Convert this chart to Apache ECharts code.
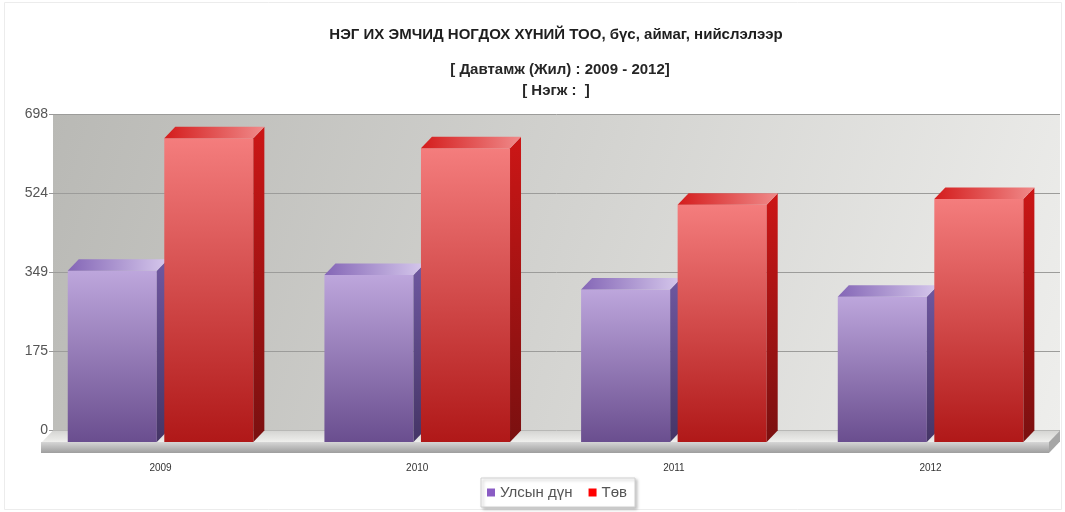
<!DOCTYPE html>
<html>
<head>
<meta charset="utf-8">
<script src="https://cdn.jsdelivr.net/npm/echarts@6/dist/echarts.min.js"></script>
<style>
html,body{margin:0;padding:0;background:#fff;}
#main{width:1065px;height:512px;}
</style>
</head>
<body>
<div id="main"></div>
<script>
// ---- data ----
const categories = ['2009', '2010', '2011', '2012'];
const seriesNames = ['Улсын дүн', 'Төв'];
const ulsynDun = [378, 369, 337, 321];
const tuv = [671, 649, 524, 537];
const yTickLabels = ['0', '175', '349', '524', '698'];
const yMax = 698;

const titleText = 'НЭГ ИХ ЭМЧИД НОГДОХ ХҮНИЙ ТОО, бүс, аймаг, нийслэлээр';
const subText1 = '[ Давтамж (Жил) : 2009 - 2012]';
const subText2 = '[ Нэгж :  ]';

// ---- styling ----
const LG = echarts.graphic.LinearGradient;
const DX = 11, DY = 11.5;
const palettes = [
  {
    legend: '#8a5cc4',
    front: () => new LG(0, 0, 0, 1, [{offset: 0, color: '#bda6dc'}, {offset: 1, color: '#6a4e8f'}]),
    side: () => new LG(0, 0, 0, 1, [{offset: 0, color: '#6f58a0'}, {offset: 1, color: '#453566'}]),
    top: () => new LG(0, 0, 1, 0, [{offset: 0, color: '#8466b6'}, {offset: 1, color: '#d6c8ec'}])
  },
  {
    legend: '#ff0000',
    front: () => new LG(0, 0, 0, 1, [{offset: 0, color: '#f47d7d'}, {offset: 1, color: '#b01818'}]),
    side: () => new LG(0, 0, 0, 1, [{offset: 0, color: '#cc1616'}, {offset: 1, color: '#7a1010'}]),
    top: () => new LG(0, 0, 1, 0, [{offset: 0, color: '#d41c1c'}, {offset: 1, color: '#f08a8a'}])
  }
];

function box3d(sIdx) {
  const pal = palettes[sIdx];
  return function (params, api) {
    const i = api.value(0), v = api.value(1);
    const top = api.coord([i, v]);
    const bot = api.coord([i, 0]);
    const band = api.size([1, 0])[0];
    const w = band * 0.347;
    const x0 = sIdx === 0 ? top[0] - band * 0.3615 : top[0] + band * 0.0146;
    const x1 = x0 + w;
    const yT = top[1], yB = bot[1];
    return {
      type: 'group',
      children: [
        {type: 'rect', shape: {x: x0, y: yT, width: w, height: yB - yT}, style: {fill: pal.front()}},
        {type: 'polygon', shape: {points: [[x1, yT], [x1 + DX, yT - DY], [x1 + DX, yB - DY], [x1, yB]]}, style: {fill: pal.side()}},
        {type: 'polygon', shape: {points: [[x0, yT], [x0 + DX, yT - DY], [x1 + DX, yT - DY], [x1, yT]]}, style: {fill: pal.top()}}
      ]
    };
  };
}

function seriesData(values) {
  return values.map((v, i) => [i, v]);
}

const chart = echarts.init(document.getElementById('main'), null, {renderer: 'canvas'});
const FONT = '"Liberation Sans", Arial, sans-serif';

const option = {
  animation: false,
  backgroundColor: '#fff',
  title: [
    {text: titleText, left: 551, top: 22.5, textAlign: 'center',
     textStyle: {fontFamily: FONT, fontSize: 15, fontWeight: 'bold', color: '#1e1e1e'}},
    {text: subText1, left: 555, top: 57.5, textAlign: 'center',
     textStyle: {fontFamily: FONT, fontSize: 15, fontWeight: 'bold', color: '#262626'}},
    {text: subText2, left: 551, top: 78.5, textAlign: 'center',
     textStyle: {fontFamily: FONT, fontSize: 15, fontWeight: 'bold', color: '#262626'}}
  ],
  legend: {
    data: seriesNames,
    left: 481, top: 478,
    icon: 'rect', itemWidth: 8, itemHeight: 8, itemGap: 16,
    padding: [7, 8, 7, 6],
    backgroundColor: '#fff', borderColor: '#d0d0d0', borderWidth: 1,
    shadowColor: 'rgba(0,0,0,0.25)', shadowBlur: 3, shadowOffsetX: 2, shadowOffsetY: 2,
    textStyle: {fontFamily: FONT, fontSize: 15, color: '#555'}
  },
  grid: [
    // front plane (bars)
    {left: 32.2, right: 6.1, top: 126, bottom: 70},
    // back wall (grid lines + y labels)
    {left: 53, right: 5, top: 114.5, bottom: 81.5, show: true, borderWidth: 0,
     backgroundColor: new LG(0, 0, 1, 1, [{offset: 0, color: '#b9b9b5'}, {offset: 0.5, color: '#d3d3d0'}, {offset: 1, color: '#eeeeec'}])}
  ],
  xAxis: [
    {type: 'category', gridIndex: 0, data: categories,
     axisLine: {show: false}, axisTick: {show: false},
     axisLabel: {margin: 21, fontFamily: FONT, fontSize: 10, color: '#333'}},
    {type: 'value', gridIndex: 1, show: false}
  ],
  yAxis: [
    {type: 'value', gridIndex: 0, min: 0, max: yMax, show: false},
    {type: 'value', gridIndex: 1, min: 0, max: yMax, interval: yMax / 4,
     axisLine: {show: false},
     axisTick: {show: true, length: 4, lineStyle: {color: '#999'}},
     splitLine: {show: true, lineStyle: {color: '#9c9c9a', width: 1}},
     axisLabel: {margin: 5, fontFamily: FONT, fontSize: 14, color: '#555',
       formatter: (val) => yTickLabels[Math.round(val / (yMax / 4))]}}
  ],
  graphic: [
    // chart border
    {type: 'rect', z: -10, shape: {x: 4.5, y: 2.5, width: 1057, height: 507},
     style: {fill: 'none', stroke: '#ececec', lineWidth: 1}},
    // floor top face
    {type: 'polygon', z: 1, shape: {points: [[53, 430.5], [1060, 430.5], [1049, 442], [42, 442]]},
     style: {fill: new LG(0, 0, 0, 1, [{offset: 0, color: '#d4d4d2'}, {offset: 1, color: '#efefed'}])}},
    // floor front face
    {type: 'rect', z: 1, shape: {x: 41, y: 442, width: 1008, height: 11},
     style: {fill: new LG(0, 0, 0, 1, [{offset: 0, color: '#d6d6d6'}, {offset: 0.6, color: '#b4b4b4'}, {offset: 1, color: '#9e9e9e'}])}},
    // floor right side
    {type: 'polygon', z: 1, shape: {points: [[1049, 442], [1060, 430.5], [1060, 441.5], [1049, 453]]},
     style: {fill: '#a6a6a6'}}
  ],
  series: [
    {name: seriesNames[0], type: 'custom', xAxisIndex: 0, yAxisIndex: 0, z: 3,
     itemStyle: {color: palettes[0].legend}, renderItem: box3d(0), data: seriesData(ulsynDun)},
    {name: seriesNames[1], type: 'custom', xAxisIndex: 0, yAxisIndex: 0, z: 3,
     itemStyle: {color: palettes[1].legend}, renderItem: box3d(1), data: seriesData(tuv)}
  ]
};
chart.setOption(option);
</script>
</body>
</html>
